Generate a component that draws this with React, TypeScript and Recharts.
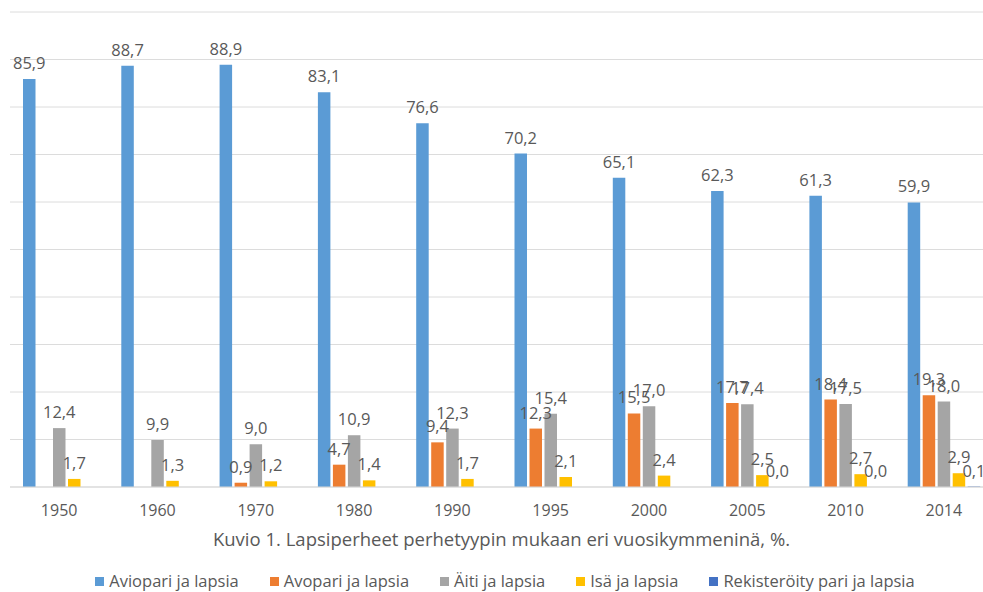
import React from 'react';
import { BarChart, Bar, XAxis, YAxis, CartesianGrid, Legend, LabelList } from 'recharts';

const years = ['1950', '1960', '1970', '1980', '1990', '1995', '2000', '2005', '2010', '2014'];
const aviopari = [85.9, 88.7, 88.9, 83.1, 76.6, 70.2, 65.1, 62.3, 61.3, 59.9];
const avopari = [null, null, 0.9, 4.7, 9.4, 12.3, 15.5, 17.7, 18.4, 19.3];
const aiti = [12.4, 9.9, 9.0, 10.9, 12.3, 15.4, 17.0, 17.4, 17.5, 18.0];
const isa = [1.7, 1.3, 1.2, 1.4, 1.7, 2.1, 2.4, 2.5, 2.7, 2.9];
const rekisteroity = [null, null, null, null, null, null, null, 0.0, 0.0, 0.1];
const yTicks = [0, 10, 20, 30, 40, 50, 60, 70, 80, 90, 100];

const seriesNames = ['Aviopari ja lapsia', 'Avopari ja lapsia', 'Äiti ja lapsia', 'Isä ja lapsia', 'Rekisteröity pari ja lapsia'];
const title = 'Kuvio 1. Lapsiperheet perhetyypin mukaan eri vuosikymmeninä, %.';

const data = years.map((y, i) => ({
  year: y,
  aviopari: aviopari[i],
  avopari: avopari[i],
  aiti: aiti[i],
  isa: isa[i],
  rek: rekisteroity[i],
}));

const FONT = '"Open Sans", Lato, sans-serif';
const TEXT = '#595959';

const fmt = (v: any) => (v === null || v === undefined ? '' : Number(v).toFixed(1).replace('.', ','));

const LegendContent = (props: any) => {
  const payload = [...(props.payload || [])].sort(
    (a: any, b: any) => seriesNames.indexOf(a.value) - seriesNames.indexOf(b.value)
  );
  return (
    <div style={{ display: 'flex', justifyContent: 'center', alignItems: 'center', fontFamily: FONT, fontSize: 16.5, lineHeight: '18px', height: 18, color: TEXT }}>
      {payload.map((p: any, i: number) => (
        <div key={i} style={{ display: 'flex', alignItems: 'center', marginRight: i < payload.length - 1 ? 31 : 0 }}>
          <span style={{ display: 'inline-block', width: 9, height: 9, background: p.color, marginRight: 5 }} />
          <span>{p.value}</span>
        </div>
      ))}
    </div>
  );
};

const series = [
  { key: 'aviopari', color: '#5B9BD5' },
  { key: 'avopari', color: '#ED7D31' },
  { key: 'aiti', color: '#A5A5A5' },
  { key: 'isa', color: '#FFC000' },
  { key: 'rek', color: '#4472C4' },
];

const zeroKeep = (v: any) => (v === 0 ? 0.01 : 0);

export default function App() {
  return (
    <div style={{ position: 'fixed', left: 0, top: 0, width: 983, height: 592, overflow: 'hidden', background: '#fff' }}>
      <BarChart
        width={1000}
        height={592}
        data={data}
        margin={{ top: 12, right: 7, bottom: 40, left: 10 }}
        barSize={12.5}
        barGap={2.5}
      >
        <CartesianGrid vertical={false} stroke="#dcdcdc" />
        <YAxis hide domain={[0, 100]} ticks={yTicks} type="number" />
        <XAxis
          dataKey="year"
          height={65}
          axisLine={{ stroke: '#d9d9d9' }}
          tickLine={false}
          tickMargin={12}
          tick={{ fill: TEXT, fontSize: 16, fontFamily: FONT }}
          interval={0}
          label={{ value: title, position: 'insideBottom', offset: 6, fill: TEXT, fontSize: 18.5, fontFamily: FONT }}
        />
        <Legend
          verticalAlign="middle"
          align="center"
          layout="horizontal"
          wrapperStyle={{ top: 572, left: 0, width: 1010, height: 18 }}
          content={<LegendContent />}
        />
        {series.map((s, i) => (
          <Bar
            key={s.key}
            dataKey={s.key}
            name={seriesNames[i]}
            fill={s.color}
            isAnimationActive={false}
            minPointSize={s.key === 'rek' ? zeroKeep : 0}
          >
            <LabelList dataKey={s.key} position="top" offset={10} formatter={fmt} fill={TEXT} fontSize={16.5} fontFamily={FONT} />
          </Bar>
        ))}
      </BarChart>
    </div>
  );
}
